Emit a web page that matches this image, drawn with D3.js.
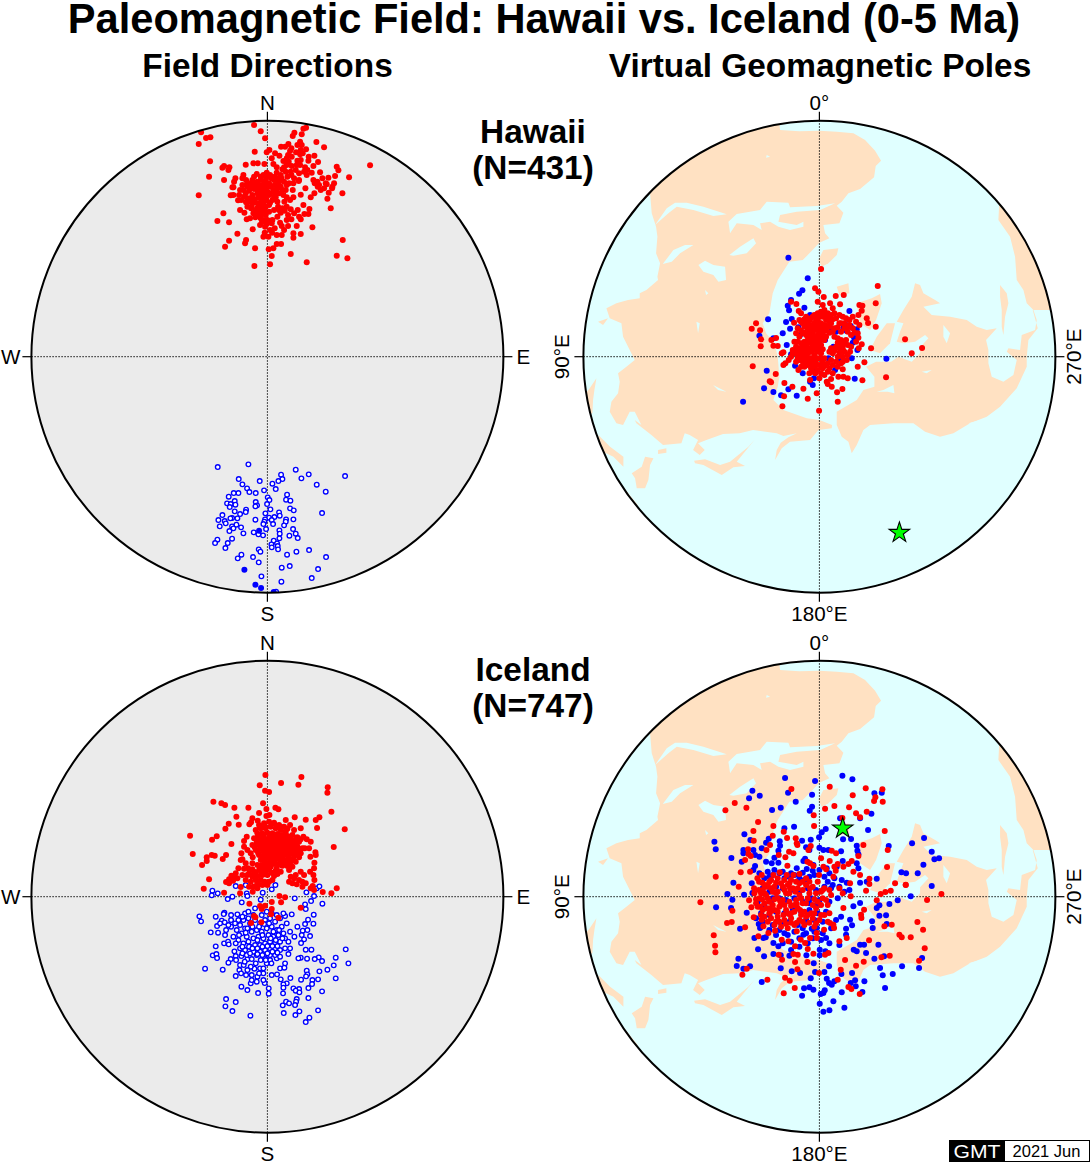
<!DOCTYPE html>
<html><head><meta charset="utf-8">
<script src="https://cdn.jsdelivr.net/npm/d3@7"></script>
<style>html,body{margin:0;padding:0;background:#fff}svg{display:block}text{font-family:"Liberation Sans",Arial,sans-serif;fill:#000}</style>
</head><body><svg id="c" width="1092" height="1163"></svg>
<script>
// All positions are [east, north]; the plot radius is 708 units.
const titleText="Paleomagnetic Field: Hawaii vs. Iceland (0-5 Ma)";
const columnTitles=["Field Directions","Virtual Geomagnetic Poles"];
const regionLabels=[["Hawaii","(N=431)"],["Iceland","(N=747)"]];
const dirTicks=["N","E","S","W"];
const vgpTicks=["0°","270°E","180°E","90°E"];
const hawaiiStar=[240,-528], icelandStar=[70,205];

const hawaiiDirRed=[[-40,695],[-20,676],[-7,655],[-199,673],[-184,656],[-171,658],[-206,638],[116,687],[108,684],[103,667],[81,672],[76,662],[98,645],[103,635],[147,644],[170,628],[116,622],[106,610],[63,638],[53,630],[41,630],[68,617],[86,613],[98,607],[141,603],[124,600],[6,620],[-2,613],[-38,615],[23,610],[36,603],[13,595],[58,595],[73,600],[90,588],[48,587],[64,585],[123,588],[152,584],[-172,586],[-130,572],[-135,567],[-114,568],[-117,560],[-65,576],[-42,580],[-29,580],[-9,578],[18,578],[28,568],[58,575],[73,572],[98,575],[113,568],[138,572],[120,560],[208,570],[213,559],[308,574],[-2,552],[-12,545],[8,545],[28,552],[45,562],[40,545],[30,535],[20,530],[85,560],[95,550],[-175,540],[-130,530],[-96,535],[-100,525],[-72,545],[-75,535],[-64,530],[-50,520],[-30,525],[-20,530],[-5,530],[5,520],[50,525],[95,530],[150,525],[142,520],[175,520],[200,520],[195,510],[225,490],[155,515],[-105,508],[-60,510],[-40,520],[-30,515],[-15,515],[-5,505],[-40,503],[-55,498],[-25,500],[0,495],[10,510],[18,500],[35,490],[40,510],[-65,490],[-45,485],[-30,490],[-15,490],[-8,485],[5,485],[-50,475],[-70,480],[-60,475],[-206,484],[-102,508],[-102,485],[-110,484],[-88,469],[-64,463],[-49,445],[-82,440],[-69,432],[-62,412],[-132,430],[-150,407],[-115,403],[-44,382],[-90,369],[-64,350],[-67,340],[-115,348],[-127,330],[-37,325],[4,322],[18,325],[13,302],[8,277],[-39,272],[28,338],[41,338],[70,308],[118,283],[208,303],[240,295],[226,350],[135,388],[100,368],[78,370],[78,357],[43,365],[28,365],[3,360],[-12,360],[-7,390],[13,400],[43,392],[58,410],[88,392],[80,430],[108,455],[126,443],[123,428],[111,428],[91,440],[58,450],[51,465],[78,478],[100,486],[141,490],[180,474],[190,445],[184,492],[194,505],[178,517],[151,510],[138,530],[183,537],[203,542],[245,538],[158,553],[133,552],[94,527],[76,500],[-40,470],[-30,460],[-20,475],[-10,465],[-25,450],[-35,440],[-15,440],[-5,450],[5,455],[15,470],[25,478],[30,465],[-30,425],[-15,428],[-20,415],[-5,425],[-10,410],[5,435],[20,440],[35,440],[45,445],[30,420],[15,410],[-25,490],[-18,470],[-45,460],[-5,480],[20,480],[38,510],[45,500],[55,500],[-35,505],[-12,495],[-22,510],[-8,520],[0,510],[12,535],[22,540],[32,520],[60,540],[70,555],[62,580],[-45,530],[-38,512],[-52,505],[-28,505],[-18,498],[-3,498],[8,490],[-55,465],[-47,450],[-38,470],[-28,478],[-12,478],[-3,470],[8,462],[-22,460],[-14,452],[-30,445],[-42,430],[-25,432],[-8,436],[-36,418],[-16,405],[0,410],[-2,398],[8,380],[-8,372],[14,372],[22,385],[-22,395],[-52,415],[32,450],[40,432],[52,438],[62,425],[70,442],[38,402],[50,380],[62,392],[72,412],[95,420],[100,412],[24,490],[30,505],[48,485],[58,478],[68,470],[65,520],[78,520],[72,545],[80,535],[88,575],[100,590],[110,555],[118,545],[55,555],[50,568],[62,605],[72,625],[90,635],[100,620],[35,525],[42,535],[58,515],[22,515],[-2,538],[-20,540],[-32,548],[-40,540],[-60,520],[-75,515],[-82,500],[-72,500],[-85,485],[-78,470],[-60,450],[165,535],[170,505],[130,478],[160,500],[114,505]];
const hawaiiDirOpen=[[-149,-331],[-57,-323],[85,-339],[124,-353],[233,-358],[102,-365],[41,-354],[45,-367],[33,-373],[15,-381],[-23,-373],[-86,-367],[-75,-383],[-61,-395],[-54,-406],[-10,-401],[25,-397],[-35,-409],[-87,-409],[-101,-409],[-116,-420],[148,-384],[175,-405],[59,-414],[56,-429],[69,-432],[1,-422],[6,-430],[-1,-442],[-98,-433],[-121,-440],[-110,-442],[-96,-444],[-113,-451],[-35,-436],[-31,-446],[-36,-449],[68,-455],[79,-461],[164,-469],[9,-458],[-64,-459],[-65,-466],[-98,-464],[-82,-472],[-135,-475],[-6,-470],[35,-467],[37,-477],[21,-481],[5,-483],[13,-490],[-7,-488],[-9,-495],[-147,-490],[-128,-493],[-125,-500],[-106,-484],[-111,-485],[-90,-485],[-36,-489],[56,-488],[55,-495],[78,-488],[17,-502],[-12,-502],[50,-506],[-93,-504],[-143,-509],[-106,-509],[-102,-515],[-79,-512],[-4,-517],[77,-517],[-114,-523],[36,-521],[-41,-527],[-27,-533],[-13,-536],[-72,-530],[37,-531],[85,-531],[66,-537],[91,-544],[-106,-546],[36,-545],[-150,-549],[-157,-559],[-119,-559],[19,-552],[29,-560],[12,-563],[31,-568],[-126,-574],[13,-572],[32,-578],[-26,-578],[-21,-585],[87,-585],[125,-580],[-78,-594],[-89,-605],[-43,-601],[59,-594],[176,-601],[-26,-617],[43,-633],[67,-628],[152,-637],[-18,-659],[133,-664],[42,-675],[26,-705]];
const hawaiiDirBlue=[[-25,-522],[-69,-639],[-36,-684],[-19,-694],[19,-706]];

const hawaiiVgpBlue=[[-93,297],[-35,235],[-51,199],[-61,189],[-85,170],[-95,153],[-91,139],[-45,147],[-154,112],[-83,113],[-100,104],[-88,84],[-110,70],[-180,63],[-63,88],[-28,125],[90,137],[77,98],[94,92],[72,85],[82,77],[37,82],[50,75],[112,82],[104,57],[100,42],[114,20],[-85,7],[-98,35],[-138,55],[-58,65],[-73,-27],[-50,-50],[-13,-45],[47,-40],[106,-66],[201,-6],[-16,-65],[-28,-75],[-20,-85],[-158,-42],[-166,-95],[-138,-106],[-115,-116],[-93,-98],[-68,-117],[-229,-135],[27,-5],[62,-10],[97,-5],[-43,20],[-13,50],[42,30],[17,50]];
const hawaiiVgpRed=[[5,263],[175,212],[169,160],[-13,205],[-3,195],[13,179],[49,182],[73,185],[-85,165],[-69,158],[-62,137],[-76,102],[-5,165],[10,155],[32,160],[62,157],[120,155],[129,153],[127,138],[142,115],[146,101],[169,90],[117,125],[-190,100],[-203,84],[-178,79],[-175,52],[-176,31],[-144,50],[-130,56],[-138,33],[-125,32],[-113,10],[-108,13],[-200,-29],[-108,-25],[-102,-20],[-92,-10],[-131,-52],[-149,-74],[-145,-77],[-105,-79],[-81,-90],[-106,-119],[-111,-149],[-48,-96],[-35,-126],[-8,-110],[-1,-162],[55,-135],[53,-107],[69,-97],[37,-90],[25,-82],[22,-75],[35,-67],[57,-60],[72,-60],[85,-65],[129,-71],[200,-62],[277,10],[308,26],[257,52],[155,25],[135,-17],[115,-30],[127,37],[117,57],[92,15],[82,-10],[65,-20],[70,-38],[0,-65],[-28,-70],[-63,-40],[-60,110],[-50,100],[-40,120],[-35,105],[-25,115],[-15,125],[-5,130],[5,135],[15,140],[25,130],[35,125],[45,130],[10,120],[20,110],[30,115],[-45,90],[-35,85],[-25,95],[-15,100],[-5,110],[5,100],[15,95],[25,90],[35,100],[50,115],[60,125],[70,120],[80,115],[90,110],[100,120],[110,105],[60,100],[120,95],[85,75],[95,65],[110,45],[118,25],[-70,70],[-60,60],[-50,70],[-40,65],[-30,75],[-20,70],[-10,80],[0,75],[10,70],[20,60],[-45,45],[-35,50],[-25,55],[-15,50],[-5,55],[5,50],[45,60],[55,55],[65,50],[75,40],[85,35],[-80,20],[-70,30],[-60,25],[-50,30],[-40,30],[-30,25],[-20,35],[-10,30],[0,30],[50,30],[60,25],[70,25],[95,30],[-85,0],[-75,10],[-65,5],[-55,10],[-45,5],[-35,10],[-25,15],[-15,5],[-5,15],[5,10],[30,15],[40,10],[55,0],[70,0],[85,5],[-70,-15],[-60,-10],[-50,-15],[-40,-5],[-30,-5],[-20,-15],[-10,-10],[10,-15],[25,-20],[40,-25],[55,-30],[-45,-30],[-35,-25],[-25,-35],[-15,-30],[-5,-40],[10,-35],[25,-45],[40,-50],[-55,-30],[-30,-50],[-20,-45],[-10,120],[40,145],[30,90],[40,75],[-55,130],[0,90],[90,95],[75,85],[65,75],[115,70],[-55,105],[-45,112],[-30,110],[-20,120],[-10,108],[0,120],[10,128],[20,122],[30,105],[40,112],[-40,95],[-30,88],[-20,85],[-10,92],[0,100],[10,85],[20,78],[30,72],[45,85],[55,88],[65,100],[75,100],[85,88],[100,85],[105,72],[-65,85],[-55,78],[-45,72],[-35,62],[-25,65],[-15,60],[-5,65],[5,60],[15,50],[-75,45],[-65,45],[-55,40],[-45,38],[-35,40],[-25,42],[-15,40],[-5,42],[5,35],[55,42],[65,38],[80,50],[-80,10],[-70,15],[-60,15],[-50,18],[-40,18],[-30,15],[-20,22],[-10,20],[0,20],[10,22],[35,25],[45,18],[60,12],[75,15],[-65,-5],[-55,-5],[-45,-10],[-35,-8],[-25,-5],[-15,-8],[-5,-5],[5,-5],[15,-5],[35,-10],[50,-15],[70,-15],[-40,-20],[-30,-18],[-20,-25],[-10,-22],[0,-25],[15,-28],[30,-35],[-12,-50],[5,-50],[15,-55]];

const icelandDirRed=[[-6,365],[102,359],[-23,334],[41,341],[93,336],[181,328],[180,312],[-7,318],[5,314],[-162,285],[-138,280],[-127,275],[-99,267],[-57,267],[-13,280],[-3,263],[24,267],[33,262],[192,255],[-25,251],[-3,242],[6,245],[-93,240],[82,238],[115,231],[145,230],[156,238],[-29,228],[-49,223],[-54,217],[-116,219],[-86,216],[-126,204],[149,206],[232,202],[-232,183],[-152,181],[-166,171],[-62,180],[-70,167],[-108,158],[199,149],[-224,128],[-167,125],[-158,123],[-182,118],[-182,107],[-124,125],[-134,113],[-78,130],[-75,112],[-196,95],[-44,118],[129,120],[144,133],[145,125],[141,102],[140,85],[128,75],[138,65],[141,50],[-175,52],[-191,24],[-124,44],[-108,63],[-95,70],[-87,85],[-70,84],[-103,48],[-130,12],[-80,29],[-82,10],[-44,15],[-30,35],[208,25],[166,14],[192,10],[136,32],[105,45],[88,37],[-54,-21],[-22,-28],[-7,-27],[13,-16],[41,-17],[36,2],[53,-2],[13,-37],[100,-33],[11,-53],[33,-63],[-40,-58],[-36,-62],[-49,-79],[-18,-77],[-17,-37],[-25,215],[-10,220],[5,225],[20,222],[35,215],[50,210],[68,215],[-35,200],[-20,205],[-5,205],[10,210],[25,205],[40,200],[55,195],[80,200],[100,205],[-30,190],[-15,190],[0,192],[15,190],[30,188],[45,185],[60,182],[75,185],[90,178],[108,180],[118,172],[-40,175],[-25,172],[-10,175],[5,178],[20,175],[35,172],[50,170],[65,168],[80,168],[95,165],[-45,155],[-30,158],[-15,160],[0,160],[15,160],[30,158],[45,155],[60,155],[75,152],[90,150],[105,145],[-35,140],[-20,143],[-5,145],[10,145],[25,145],[40,142],[55,140],[70,138],[85,135],[100,130],[112,145],[-25,125],[-10,130],[5,130],[20,130],[35,128],[50,125],[65,125],[80,122],[95,118],[-20,110],[-5,115],[10,115],[25,112],[40,110],[55,108],[70,108],[85,105],[-15,95],[0,100],[15,98],[30,95],[45,93],[60,92],[75,90],[-30,95],[-45,100],[-58,85],[-40,75],[-25,80],[-10,80],[5,82],[25,78],[-60,65],[-45,60],[-30,62],[-15,65],[0,65],[20,62],[40,75],[65,80],[70,60],[85,65],[100,75],[110,65],[-65,50],[-50,45],[-35,50],[-20,50],[5,45],[15,50],[65,45],[75,40],[105,30],[115,40],[-15,35],[0,35],[-90,55],[-75,65],[-100,60],[-115,40],[-115,52],[-55,30],[-30,25],[130,25],[140,20],[-65,100],[-80,110],[-50,130],[-60,140],[-70,150],[-45,235],[55,230],[125,145],[130,165],[-22,208],[-8,212],[12,218],[28,212],[42,208],[60,204],[-28,182],[-12,183],[8,184],[22,182],[38,178],[52,176],[68,175],[85,172],[100,172],[-32,165],[-18,166],[-2,168],[12,168],[28,165],[42,162],[58,162],[72,160],[88,158],[-38,148],[-22,150],[-8,152],[8,152],[22,152],[38,150],[52,148],[68,145],[82,142],[97,140],[-28,132],[-12,138],[3,137],[18,138],[32,136],[48,133],[62,132],[78,130],[92,127],[-15,118],[0,122],[15,122],[30,120],[45,117],[62,116],[78,113],[-8,105],[8,106],[22,104],[38,102],[52,100],[68,98],[-20,88],[-5,90],[10,90],[28,86],[-35,72],[-18,72],[-5,72],[12,72],[30,68],[80,55],[95,50],[-45,82],[-55,70],[-30,40],[-8,45],[-42,30]];
const icelandDirOpen=[[-165,18],[-167,4],[-149,10],[-119,-7],[-105,0],[-77,-17],[-62,10],[-60,2],[-14,12],[-20,-9],[13,22],[24,35],[82,-5],[117,13],[140,2],[131,-13],[113,-23],[115,-37],[165,-21],[148,25],[156,31],[-65,35],[-95,32],[-204,-59],[-199,-74],[-155,-60],[-129,-48],[-131,-52],[-109,-55],[-90,-53],[-137,-72],[-151,-88],[-128,-77],[-109,-70],[-170,-107],[-148,-108],[-124,-100],[-109,-90],[-87,-70],[-67,-50],[-57,-45],[-37,-35],[73,-53],[53,-58],[38,-65],[139,-54],[122,-69],[113,-82],[138,-81],[90,-90],[106,-102],[120,-100],[103,-115],[128,-118],[110,-128],[101,-139],[81,-120],[63,-135],[68,-155],[63,-172],[-130,-140],[-118,-135],[-116,-143],[-155,-149],[-99,-164],[-164,-176],[-153,-172],[-151,-184],[-110,-187],[-95,-178],[-94,-190],[-117,-198],[-78,-178],[-60,-188],[-47,-187],[-32,-175],[-187,-216],[-134,-219],[-82,-205],[-71,-205],[-84,-220],[-79,-230],[-95,-238],[-64,-235],[-47,-235],[-20,-190],[-2,-200],[-22,-215],[-39,-216],[-12,-215],[115,-159],[132,-159],[235,-158],[243,-200],[205,-183],[199,-206],[180,-219],[164,-193],[154,-182],[142,-187],[119,-186],[100,-183],[93,-185],[118,-222],[120,-233],[156,-224],[116,-239],[101,-249],[152,-248],[135,-250],[134,-262],[123,-274],[205,-245],[164,-284],[69,-244],[38,-215],[51,-213],[40,-248],[58,-260],[48,-263],[48,-273],[47,-290],[78,-275],[95,-277],[85,-282],[96,-287],[123,-304],[88,-307],[86,-315],[83,-325],[56,-315],[65,-320],[46,-326],[152,-341],[96,-344],[84,-355],[49,-349],[126,-363],[115,-376],[-78,-270],[-60,-280],[-50,-260],[-32,-255],[-28,-289],[-8,-259],[4,-275],[4,-291],[-124,-307],[-126,-329],[-95,-316],[-105,-343],[-51,-357],[28,-185],[53,-200],[8,-190],[-12,-230],[13,-235],[29,-233],[-12,-250],[-30,-240],[-47,-250],[-82,-85],[-67,-95],[-52,-80],[-37,-70],[-22,-80],[-7,-70],[8,-65],[23,-75],[-92,-100],[-77,-110],[-62,-120],[-47,-105],[-32,-100],[-17,-105],[-2,-95],[13,-90],[28,-100],[43,-90],[58,-80],[68,-105],[-102,-120],[-87,-130],[-72,-140],[-57,-135],[-42,-125],[-27,-120],[-12,-125],[3,-115],[18,-120],[33,-115],[48,-110],[-82,-155],[-67,-160],[-52,-150],[-37,-145],[-22,-145],[-7,-140],[8,-135],[23,-140],[38,-135],[53,-125],[-62,-175],[-42,-165],[-22,-165],[-7,-160],[8,-155],[23,-155],[38,-160],[53,-155],[-7,-185],[8,-175],[23,-175],[38,-180],[-17,-55],[-2,-45],[13,-50],[28,-55],[48,-50],[-42,-55],[-57,-65],[-72,-70],[-97,-80],[-117,-85],[-127,-115],[-142,-80],[-75,-60],[-60,-95],[-45,-90],[-25,-90],[-10,-82],[5,-80],[18,-105],[35,-100],[-85,-115],[-65,-108],[-55,-150],[-30,-130],[-15,-115],[10,-125],[25,-130],[45,-125],[-95,-140],[-75,-150],[-45,-155],[-30,-155],[-15,-150],[0,-148],[15,-148],[30,-148],[-75,-170],[-52,-170],[-30,-172],[-15,-175],[0,-170],[15,-165],[30,-168],[-68,-195],[-35,-200],[-5,-190],[12,-200],[-50,-210],[-25,-230],[-60,-220]];

const icelandVgpBlue=[[69,363],[99,352],[-13,347],[-103,356],[-201,318],[-179,303],[-211,295],[-94,312],[-22,306],[-71,285],[-142,260],[-116,267],[-22,270],[-29,258],[165,310],[187,312],[156,249],[146,200],[62,235],[122,235],[-76,210],[-105,205],[19,203],[7,193],[-1,178],[71,172],[95,173],[112,153],[114,138],[117,127],[-26,171],[-52,168],[-225,187],[-315,165],[-311,142],[-264,116],[-207,170],[-152,174],[-160,162],[-119,166],[-118,153],[-173,145],[-198,140],[-228,140],[-228,130],[-193,125],[-180,120],[-233,105],[-123,138],[-135,117],[-160,105],[-143,100],[-123,102],[-40,148],[-30,140],[0,147],[12,140],[65,136],[27,140],[208,152],[278,160],[314,176],[337,135],[345,112],[359,115],[312,96],[295,70],[260,70],[246,73],[337,32],[172,54],[117,85],[112,100],[70,107],[-43,114],[-48,107],[-193,92],[-198,80],[-258,42],[-203,40],[-68,85],[-38,83],[-18,95],[22,85],[52,90],[67,50],[82,42],[122,42],[142,45],[-276,8],[-261,-9],[-310,-32],[-265,-34],[-226,6],[-201,11],[-218,-48],[-238,-96],[-195,-124],[-182,-82],[-178,-94],[-168,-124],[-161,-122],[-138,-139],[-123,-149],[-184,-158],[-166,-179],[-243,-186],[-248,-208],[-228,-216],[-208,-209],[-173,-256],[-138,-172],[-116,-176],[-90,-177],[-116,-215],[-83,-224],[-58,-229],[-26,-245],[-13,-226],[15,-226],[29,-209],[-17,-200],[-39,-176],[1,-159],[1,-176],[18,-164],[-48,-114],[-8,-94],[-23,-96],[20,-124],[80,-96],[98,-86],[92,-69],[80,-114],[122,-19],[102,-29],[172,-34],[180,-26],[210,-22],[235,-11],[274,1],[180,-57],[200,-56],[158,-74],[160,-94],[202,-82],[122,-144],[134,-144],[177,-144],[103,-159],[112,-164],[140,-169],[165,-186],[194,-179],[182,-214],[248,-209],[299,-214],[308,-184],[190,-236],[220,-232],[197,-274],[135,-254],[107,-251],[94,-259],[109,-269],[98,-229],[66,-232],[22,-246],[29,-259],[37,-264],[45,-254],[67,-287],[129,-286],[16,-281],[12,-289],[4,-292],[-18,-279],[-30,-272],[-46,-275],[-52,-297],[1,-321],[42,-314],[30,-341],[12,-345],[75,-333],[-180,70],[-165,55],[-150,60],[-135,80],[-120,70],[-105,55],[-90,60],[-75,65],[-60,55],[-45,50],[-30,60],[-15,65],[0,80],[15,60],[30,70],[45,55],[60,30],[90,20],[-170,25],[-150,15],[-130,30],[-110,25],[-85,20],[-60,15],[-35,25],[-10,20],[15,30],[35,25],[75,15],[-185,-15],[-165,-25],[-145,-15],[-120,-5],[-100,-10],[-75,-5],[-50,-15],[-25,-5],[0,-10],[30,-15],[55,-5],[-175,-50],[-150,-55],[-130,-45],[-105,-50],[-80,-40],[-55,-45],[-30,-40],[-5,-50],[20,-45],[-170,-75],[-140,-85],[-115,-80],[-90,-75],[-65,-85],[-40,-70],[-15,-70],[10,-75],[-130,-115],[-105,-110],[-75,-105],[-50,-95],[-20,-125],[5,-130],[-110,-140],[-85,-135],[-155,75],[-140,65],[-110,75],[-85,70],[-50,72],[-20,78],[25,45],[40,35],[-140,-5],[-10,-25],[-30,-20],[-175,-90],[-150,-100],[-120,-100],[-95,-115],[-60,-125],[-40,-110],[-15,-105],[10,-110],[35,-95],[50,-70],[65,-60],[-35,-140],[-60,-150],[-85,-160],[30,-140],[60,-145],[-190,-65]];
const icelandVgpRed=[[-84,323],[31,330],[139,325],[189,322],[168,298],[164,287],[190,285],[100,304],[-254,281],[-282,259],[-219,267],[45,272],[17,264],[89,268],[142,255],[110,250],[122,238],[69,236],[-17,244],[-16,212],[-184,224],[-138,212],[-107,195],[-198,197],[-140,183],[-97,176],[-71,175],[196,197],[-197,168],[-68,160],[-66,155],[-148,155],[-26,152],[-159,140],[-214,142],[-213,128],[-206,122],[-223,110],[-122,125],[-91,135],[-78,130],[-33,140],[132,155],[205,140],[117,122],[37,138],[50,130],[5,115],[-102,118],[31,107],[-36,105],[-28,100],[97,107],[87,98],[55,98],[72,90],[45,90],[12,90],[-18,92],[-96,93],[-236,73],[-208,75],[-311,60],[203,89],[-119,73],[102,75],[49,78],[20,82],[-1,65],[-60,68],[-78,65],[-98,65],[-138,65],[-173,65],[-186,55],[-181,45],[-171,42],[-242,30],[-196,25],[-158,30],[122,65],[150,54],[227,40],[259,35],[150,38],[92,40],[42,60],[-357,-17],[-211,-11],[-204,-32],[-261,-42],[-277,-79],[-263,-76],[-223,-92],[-197,-62],[-317,-116],[-313,-147],[-312,-167],[-218,-216],[-231,-234],[-156,-249],[-103,-243],[-89,-252],[-74,-274],[-107,-290],[-66,-218],[-73,-196],[-36,-196],[-1,-229],[-18,-171],[-65,-174],[-78,-172],[-122,-174],[-112,-189],[-35,-157],[-73,-149],[17,-174],[27,-169],[77,-190],[64,-219],[110,-207],[133,-195],[186,-182],[211,-177],[299,-192],[316,-155],[274,-122],[247,-122],[240,-114],[311,-99],[294,-76],[217,-84],[195,-89],[149,-131],[60,-134],[82,-124],[55,-249],[87,-271],[96,-277],[121,-292],[323,-10],[366,8],[259,36],[172,-11],[184,8],[198,14],[214,18],[140,18],[134,-39],[125,-54],[126,-64],[94,1],[72,-34],[42,-84],[32,-79],[14,-99],[44,-94],[-8,-109],[-8,-124],[-28,-124],[-43,-139],[-56,-129],[-68,-104],[-93,-134],[-113,-129],[-153,-109],[-133,-102],[-173,-69],[-168,-89],[-183,-119],[-195,10],[-180,-5],[-170,20],[-160,5],[-150,-15],[-140,15],[-125,-5],[-115,-20],[-100,10],[-90,-15],[-75,-25],[-60,5],[-50,-20],[-35,-5],[-20,-25],[-5,-15],[10,-5],[25,-25],[35,5],[60,25],[70,10],[-185,-30],[-170,-40],[-150,-35],[-135,-40],[-120,-30],[-100,-40],[-85,-50],[-65,-35],[-45,-45],[-25,-50],[-10,-35],[15,-55],[30,-50],[-175,10],[-155,35],[-135,30],[-115,40],[-95,35],[-80,25],[-60,40],[-40,35],[-20,30],[-5,45],[15,25],[30,20],[-145,50],[-125,55],[-105,50],[-85,50],[-65,25],[-40,55],[-165,-60],[-145,-65],[-125,-60],[-105,-70],[-85,-65],[-60,-70],[-40,-60],[-20,-65],[0,-70],[25,-75],[-115,-90],[-95,-95],[-75,-85],[-45,-85],[-15,-90],[-130,-75],[-140,-25],[-110,-10],[-70,-10],[-30,10],[5,15],[-55,-55],[-90,10],[-130,10],[-150,-50],[-165,-20],[-190,-20],[-175,-55],[-182,20],[-165,10],[-145,25],[-125,15],[-105,20],[-88,25],[-72,15],[-50,20],[-28,25],[-10,10],[10,20],[-190,-8],[-172,-8],[-155,-5],[-135,-8],[-118,-12],[-105,-25],[-85,-28],[-68,-22],[-55,-5],[-40,-20],[-15,-8],[5,-25],[20,-10],[-178,-30],[-160,-35],[-142,-42],[-125,-45],[-108,-55],[-92,-52],[-75,-45],[-58,-40],[-35,-55],[-15,-50],[5,-55],[-155,-75],[-135,-85],[-120,-75],[-100,-82],[-85,-78],[-68,-78],[-50,-75],[-30,-78],[-10,-80],[-165,35],[-150,45],[-130,42],[-110,30],[-90,40],[-70,45],[-50,45],[-30,45]];

const landRings=[
[[-125,740],[-118,680],[-60,676],[0,678],[52,675],[102,670],[137,650],[167,618],[185,588],[169,572],[164,538],[122,503],[87,490],[67,465],[52,453],[72,432],[60,400],[12,395],[17,370],[30,355],[0,342],[-30,310],[-50,290],[-90,285],[-125,230],[-140,190],[-150,130],[-170,100],[-160,70],[-135,40],[-125,0],[-120,-60],[-125,-90],[-138,-130],[-108,-160],[-38,-185],[0,-190],[38,-205],[37,-215],[-3,-220],[-28,-250],[-88,-255],[-113,-275],[-133,-310],[-128,-280],[-116,-258],[-93,-242],[-68,-230],[-108,-238],[-128,-230],[-199,-220],[-239,-230],[-289,-232],[-339,-250],[-364,-260],[-344,-280],[-359,-295],[-379,-280],[-364,-250],[-389,-235],[-404,-230],[-414,-260],[-469,-265],[-504,-235],[-549,-200],[-554,-190],[-534,-205],[-554,-165],[-569,-165],[-589,-205],[-609,-200],[-629,-165],[-624,-135],[-604,-110],[-599,-75],[-604,-50],[-579,-30],[-554,-10],[-569,20],[-589,60],[-594,100],[-629,115],[-639,145],[-609,160],[-574,170],[-539,175],[-539,190],[-519,200],[-484,230],[-486,240],[-478,280],[-490,310],[-486,360],[-490,390],[-503,430],[-508,490],[-540,540],[-300,720]],
[[540,470],[537,410],[572,360],[587,300],[592,230],[612,200],[622,160],[642,140],[652,110],[647,80],[607,65],[602,20],[567,25],[562,15],[592,-10],[582,-55],[552,-75],[517,-60],[507,-20],[507,20],[500,50],[532,85],[502,80],[472,90],[442,110],[392,120],[337,125],[312,150],[362,160],[347,170],[312,190],[302,215],[287,220],[277,180],[252,140],[232,105],[252,100],[242,75],[232,45],[252,40],[287,45],[317,65],[327,55],[302,28],[302,10],[277,-15],[237,0],[215,-15],[170,-15],[140,-30],[165,-60],[165,-90],[132,-100],[112,-130],[52,-165],[52,-205],[67,-240],[87,-255],[97,-290],[112,-265],[132,-220],[152,-205],[222,-200],[282,-200],[317,-225],[362,-240],[402,-230],[452,-200],[502,-180],[542,-150],[592,-95],[622,-30],[622,0],[627,50],[655,85],[640,140],[692,140],[760,140],[740,300]],
[[-669,-65],[-689,-95],[-710,-120],[-710,-180],[-681,-170],[-679,-130],[-675,-100]],
[[-664,105],[-634,115],[-649,95]],
[[-484,-280],[-459,-275],[-459,-288],[-484,-292]],
[[-376,-312],[-343,-308],[-298,-325],[-268,-315],[-213,-270],[-193,-248],[-248,-315],[-223,-328],[-258,-332],[-293,-355],[-348,-325],[-373,-320]],
[[-563,-350],[-533,-330],[-523,-300],[-498,-305],[-508,-325],[-513,-370],[-523,-395],[-548,-395],[-553,-365]],
[[-663,-235],[-628,-270],[-588,-300],[-588,-330],[-618,-300],[-660,-280]],
[[-625,-345],[-545,-445],[-560,-460],[-640,-365]],
[[-3,290],[12,320],[57,325],[52,305],[27,280],[7,270]],
[[52,210],[87,220],[90,190],[60,185]],
[[112,160],[157,175],[182,188],[187,160],[170,110],[152,80],[122,100]],
[[202,100],[227,100],[212,40],[182,10],[152,20],[172,60]],
[[542,215],[562,190],[567,160],[557,120],[552,65],[547,90],[547,140],[542,180]]
];
const waterRings=[
[[-493,395],[-458,445],[-433,462],[-398,462],[-348,450],[-278,427],[-318,422],[-378,440],[-428,450],[-453,430]],
[[-273,405],[-248,428],[-178,440],[-158,465],[-93,462],[-88,448],[-8,452],[47,460],[2,440],[-68,435],[-118,425],[-123,405],[-68,395],[-48,405],[-48,390],[-88,380],[-123,390],[-148,405],[-178,400],[-173,380],[-198,395],[-248,400],[-268,370]],
[[-270,305],[-238,330],[-198,355],[-190,340],[-218,310],[-258,303]],
[[-438,320],[-403,335],[-378,335],[-418,310],[-443,285],[-470,278]],
[[-363,275],[-343,288],[-318,275],[-283,270],[-280,230],[-303,225],[-318,245],[-348,255]],
[[-343,200],[-333,190],[-340,185]],
[[-158,605],[-148,600],[-160,597]],
[[-369,105],[-359,100],[-364,70]],
[[-319,-85],[-279,-105],[-304,-100]],
[[307,-45],[337,-40],[322,-50]],
[[372,95],[392,70],[382,40],[372,60]],
[[172,-105],[192,-100],[222,-85],[225,-110],[205,-105]],
[[447,-200],[482,-190],[517,-185],[500,-195],[470,-205]]
];

const R=236, px=[267.4,819.4], py=[356.7,896.7];
const svg=d3.select("#c");
const defs=svg.append("defs");
const INK="#000", RED="#ff0000", BLUE="#0000ff";

function panel(col,row,opt){
  const cx=px[col], cy=py[row];
  const x=d3.scaleLinear().domain([-708,708]).range([cx-R,cx+R]);
  const y=d3.scaleLinear().domain([-708,708]).range([cy+R,cy-R]);
  const id=`clip${col}${row}`;
  defs.append("clipPath").attr("id",id).append("circle").attr("cx",x(0)).attr("cy",y(0)).attr("r",R);
  const g=svg.append("g");
  g.append("circle").attr("cx",x(0)).attr("cy",y(0)).attr("r",R).attr("fill",opt.bg);
  const inner=g.append("g").attr("clip-path",`url(#${id})`);
  const line=d3.line().x(d=>x(d[0])).y(d=>y(d[1])).curve(d3.curveLinearClosed);
  if(opt.map){
    inner.selectAll("path.l").data(landRings).join("path").attr("class","l").attr("d",line).attr("fill","#ffe1c2");
    inner.selectAll("path.w").data(waterRings).join("path").attr("class","w").attr("d",line).attr("fill",opt.bg);
  }
  [[[-708,0],[708,0]],[[0,-708],[0,708]]].forEach(s=>{
    inner.append("line").attr("x1",x(s[0][0])).attr("y1",y(s[0][1])).attr("x2",x(s[1][0])).attr("y2",y(s[1][1]))
      .attr("stroke",INK).attr("stroke-width",1).attr("stroke-dasharray","1.4 1.6");
  });
  inner.selectAll("circle.o").data(opt.open||[]).join("circle").attr("class","o").attr("cx",d=>x(d[0])).attr("cy",d=>y(d[1])).attr("r",2.3).attr("fill","#fff").attr("stroke",BLUE).attr("stroke-width",1.35);
  inner.selectAll("circle.b").data(opt.blue||[]).join("circle").attr("class","b").attr("cx",d=>x(d[0])).attr("cy",d=>y(d[1])).attr("r",3).attr("fill",BLUE);
  inner.selectAll("circle.r").data(opt.red||[]).join("circle").attr("class","r").attr("cx",d=>x(d[0])).attr("cy",d=>y(d[1])).attr("r",3).attr("fill",RED);
  if(opt.star){
    g.append("path").attr("d",d3.symbol(d3.symbolStar).size(130)()).attr("transform",`translate(${x(opt.star[0])},${y(opt.star[1])})`).attr("fill","#00ff00").attr("stroke",INK).attr("stroke-width",1.1);
  }
  g.append("circle").attr("cx",x(0)).attr("cy",y(0)).attr("r",R).attr("fill","none").attr("stroke",INK).attr("stroke-width",2);
  const t=g.append("g").attr("stroke",INK).attr("stroke-width",1.2);
  t.append("line").attr("x1",x(0)).attr("x2",x(0)).attr("y1",y(708)).attr("y2",y(708)-9);
  t.append("line").attr("x1",x(0)).attr("x2",x(0)).attr("y1",y(-708)).attr("y2",y(-708)+9);
  t.append("line").attr("y1",y(0)).attr("y2",y(0)).attr("x1",x(-708)).attr("x2",x(-708)-9);
  t.append("line").attr("y1",y(0)).attr("y2",y(0)).attr("x1",x(708)).attr("x2",x(708)+9);
  const L=opt.labels, fs=20.6;
  const lab=(s,xx,yy,rot)=>{const e=g.append("text").text(s).attr("font-size",fs).attr("text-anchor","middle");
    if(rot) e.attr("transform",`translate(${xx},${yy}) rotate(-90)`); else e.attr("x",xx).attr("y",yy);};
  lab(L[0],x(0),y(708)-11);
  lab(L[2],x(0),y(-708)+28);
  if(opt.map){ lab(L[1],x(708)+26,y(0),true); lab(L[3],x(-708)-14,y(0),true); }
  else { g.append("text").text(L[1]).attr("font-size",fs).attr("x",x(708)+13).attr("y",y(0)+7);
         g.append("text").text(L[3]).attr("font-size",fs).attr("text-anchor","end").attr("x",x(-708)-11).attr("y",y(0)+7); }
}
panel(0,0,{bg:"#ebebeb",open:hawaiiDirOpen,blue:hawaiiDirBlue,red:hawaiiDirRed,labels:dirTicks});
panel(1,0,{bg:"#e0ffff",map:true,blue:hawaiiVgpBlue,red:hawaiiVgpRed,star:hawaiiStar,labels:vgpTicks});
panel(0,1,{bg:"#ebebeb",open:icelandDirOpen,red:icelandDirRed,labels:dirTicks});
panel(1,1,{bg:"#e0ffff",map:true,blue:icelandVgpBlue,red:icelandVgpRed,star:icelandStar,labels:vgpTicks});

svg.append("text").text(titleText).attr("x",544).attr("y",32.5).attr("text-anchor","middle").attr("font-size",41.6).attr("font-weight","bold");
columnTitles.forEach((s,i)=>svg.append("text").text(s).attr("x",i?820:267.5).attr("y",77).attr("text-anchor","middle").attr("font-size",33.4).attr("font-weight","bold"));
regionLabels.forEach((r,i)=>r.forEach((s,j)=>svg.append("text").text(s).attr("x",533).attr("y",[143,681][i]+j*36).attr("text-anchor","middle").attr("font-size",33.4).attr("font-weight","bold")));

const badge=svg.append("g");
badge.append("rect").attr("x",949.5).attr("y",1140.5).attr("width",55).attr("height",21).attr("fill","#000").attr("stroke","#000");
badge.append("rect").attr("x",1004.5).attr("y",1140.5).attr("width",85).attr("height",21).attr("fill","#fff").attr("stroke","#000");
badge.append("text").text("GMT").attr("x",977).attr("y",1157.5).attr("text-anchor","middle").attr("font-size",18).attr("textLength",47).attr("lengthAdjust","spacingAndGlyphs").style("fill","#fff");
badge.append("text").text("2021 Jun").attr("x",1046.5).attr("y",1157).attr("text-anchor","middle").attr("font-size",16.5);
</script></body></html>
